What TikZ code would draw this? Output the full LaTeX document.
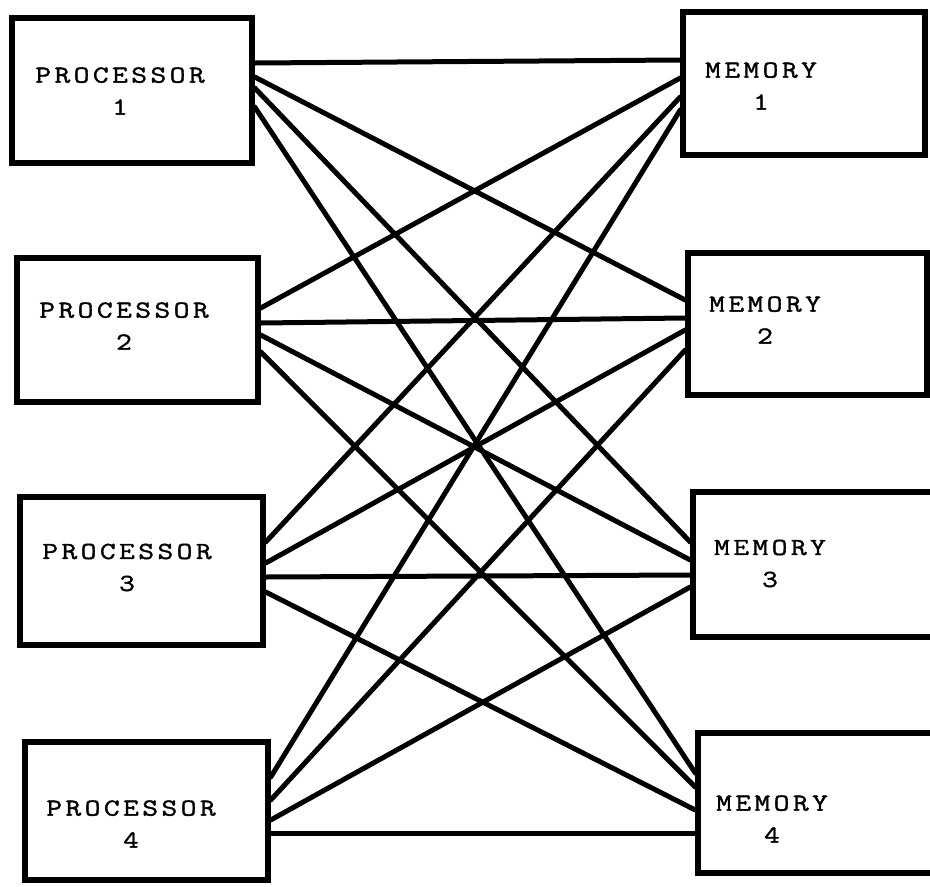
\documentclass[tikz,border=0pt]{standalone}
\usepackage{fontspec}
\newfontfamily\tw{Latin Modern Mono}[FakeStretch=1.25, LetterSpace=14, FakeBold=1.5]
\begin{document}
\begin{tikzpicture}[x=1pt,y=-1pt,
  box/.style={draw, line width=5.5pt, rectangle, inner sep=0pt},
  lbl/.style={font=\tw\fontsize{24.5}{32}\selectfont, align=center, inner sep=0pt},
  wire/.style={line width=5pt, line cap=round}]
\useasboundingbox (0,0) rectangle (930,887);
\begin{scope}
\clip (0,0) rectangle (930,887);
% processors
\node[box, minimum width=240pt, minimum height=145pt] (p1) at (132,90.5) {};
\node[box, minimum width=241pt, minimum height=144pt] (p2) at (137.5,330) {};
\node[box, minimum width=243pt, minimum height=148pt] (p3) at (141.5,571) {};
\node[box, minimum width=243pt, minimum height=138pt] (p4) at (146.5,811) {};
% memories
\node[box, minimum width=242pt, minimum height=143pt] (m1) at (804,83.5) {};
\node[box, minimum width=239pt, minimum height=142pt] (m2) at (807.5,324) {};
\node[box, minimum width=257pt, minimum height=145pt] (m3) at (821.5,564.5) {};
\node[box, minimum width=252pt, minimum height=140pt] (m4) at (824,803) {};
\end{scope}
% labels
\node[lbl] (p1t) at (120,91) {PROCESSOR\\1};
\node[lbl] (p2t) at (124,326) {PROCESSOR\\2};
\node[lbl] (p3t) at (127,567.5) {PROCESSOR\\3};
\node[lbl] (p4t) at (131,824) {PROCESSOR\\4};
\node[lbl] (m1t) at (761,86) {MEMORY\\1};
\node[lbl] (m2t) at (765,320) {MEMORY\\2};
\node[lbl] (m3t) at (770,563.5) {MEMORY\\3};
\node[lbl] (m4t) at (772,819) {MEMORY\\4};
% connection points on processors
\coordinate (p1a) at (p1.east |- 0,63);
\coordinate (p1b) at (p1.east |- 0,77);
\coordinate (p1c) at (p1.east |- 0,88);
\coordinate (p1d) at (p1.east |- 0,107);
\coordinate (p2a) at (p2.east |- 0,308);
\coordinate (p2b) at (p2.east |- 0,323);
\coordinate (p2c) at (p2.east |- 0,335);
\coordinate (p2d) at (p2.east |- 0,352);
\coordinate (p3a) at (p3.east |- 0,542);
\coordinate (p3b) at (p3.east |- 0,563);
\coordinate (p3c) at (p3.east |- 0,577);
\coordinate (p3d) at (p3.east |- 0,592);
\coordinate (p4a) at (p4.east |- 0,777);
\coordinate (p4b) at (p4.east |- 0,800);
\coordinate (p4c) at (p4.east |- 0,820);
\coordinate (p4d) at (p4.east |- 0,833);
% connection points on memories
\coordinate (m1a) at (m1.west |- 0,60);
\coordinate (m1b) at (m1.west |- 0,78);
\coordinate (m1c) at (m1.west |- 0,97);
\coordinate (m1d) at (m1.west |- 0,110);
\coordinate (m2a) at (m2.west |- 0,300);
\coordinate (m2b) at (m2.west |- 0,318);
\coordinate (m2c) at (m2.west |- 0,330);
\coordinate (m2d) at (m2.west |- 0,350);
\coordinate (m3a) at (m3.west |- 0,542);
\coordinate (m3b) at (m3.west |- 0,560);
\coordinate (m3c) at (m3.west |- 0,575);
\coordinate (m3d) at (m3.west |- 0,587);
\coordinate (m4a) at (m4.west |- 0,773);
\coordinate (m4b) at (m4.west |- 0,787);
\coordinate (m4c) at (m4.west |- 0,810);
\coordinate (m4d) at (m4.west |- 0,833);
% wires
\draw[wire] (p1a) -- (m1a);
\draw[wire] (p1b) -- (m2a);
\draw[wire] (p1c) -- (m3a);
\draw[wire] (p1d) -- (m4a);
\draw[wire] (p2a) -- (m1b);
\draw[wire] (p2b) -- (m2b);
\draw[wire] (p2c) -- (m3b);
\draw[wire] (p2d) -- (m4b);
\draw[wire] (p3a) -- (m1c);
\draw[wire] (p3b) -- (m2c);
\draw[wire] (p3c) -- (m3c);
\draw[wire] (p3d) -- (m4c);
\draw[wire] (p4a) -- (m1d);
\draw[wire] (p4b) -- (m2d);
\draw[wire] (p4c) -- (m3d);
\draw[wire] (p4d) -- (m4d);
\end{tikzpicture}
\end{document}
